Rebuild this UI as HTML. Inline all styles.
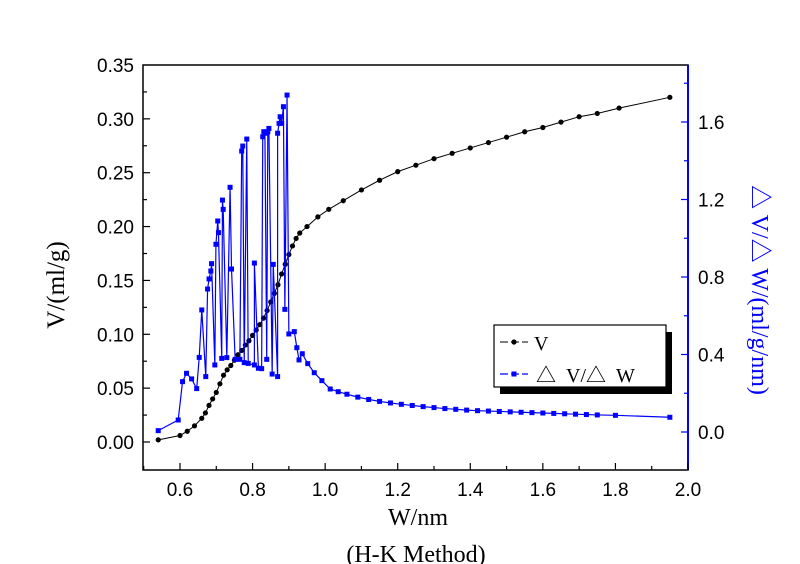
<!DOCTYPE html>
<html><head><meta charset="utf-8"><style>
html,body{margin:0;padding:0;background:#fff;width:800px;height:564px;overflow:hidden}
svg text{font-family:"Liberation Sans",sans-serif}
.serif{font-family:"Liberation Serif","Noto Serif CJK SC",serif}
</style></head><body>
<svg id="chart" width="800" height="564" viewBox="0 0 800 564" xmlns="http://www.w3.org/2000/svg">
</svg>
<script>
const vW = [0.54,0.60,0.62,0.64,0.66,0.67,0.68,0.69,0.70,0.71,0.72,0.73,0.74,0.75,0.76,0.77,0.78,0.79,0.80,0.81,0.82,0.83,0.84,0.85,0.86,0.87,0.88,0.89,0.90,0.91,0.92,0.93,0.95,0.98,1.01,1.05,1.10,1.15,1.20,1.25,1.30,1.35,1.40,1.45,1.50,1.55,1.60,1.65,1.70,1.75,1.81,1.95];
const vValues = [0.002,0.006,0.010,0.015,0.022,0.027,0.034,0.040,0.046,0.054,0.062,0.067,0.071,0.076,0.081,0.085,0.090,0.094,0.099,0.104,0.109,0.115,0.122,0.130,0.138,0.146,0.156,0.165,0.174,0.182,0.189,0.194,0.200,0.209,0.216,0.224,0.234,0.243,0.251,0.257,0.263,0.268,0.273,0.278,0.283,0.288,0.292,0.297,0.302,0.305,0.310,0.320];
const dW = [0.540,0.595,0.607,0.618,0.632,0.646,0.653,0.660,0.671,0.676,0.680,0.685,0.687,0.696,0.699,0.704,0.706,0.715,0.717,0.719,0.729,0.738,0.742,0.752,0.765,0.770,0.773,0.777,0.784,0.788,0.805,0.805,0.816,0.825,0.828,0.831,0.834,0.839,0.842,0.845,0.854,0.857,0.869,0.869,0.873,0.876,0.880,0.885,0.889,0.895,0.900,0.915,0.922,0.928,0.937,0.952,0.970,0.991,1.014,1.036,1.06,1.09,1.12,1.15,1.18,1.21,1.24,1.27,1.30,1.33,1.36,1.39,1.42,1.45,1.48,1.51,1.54,1.57,1.60,1.63,1.66,1.69,1.72,1.75,1.80,1.95];
const dValues = [0.007,0.062,0.260,0.303,0.274,0.224,0.385,0.630,0.286,0.738,0.790,0.831,0.869,0.346,0.969,1.089,1.029,0.380,1.197,1.149,0.384,1.263,0.841,0.375,0.375,1.450,1.476,0.358,1.512,0.354,0.346,0.872,0.329,0.327,1.524,1.550,1.542,0.375,1.550,1.567,0.299,0.865,0.286,1.542,1.593,1.627,1.593,1.679,0.633,1.739,0.506,0.518,0.435,0.372,0.404,0.353,0.306,0.265,0.222,0.208,0.195,0.180,0.168,0.158,0.150,0.143,0.137,0.131,0.126,0.121,0.117,0.113,0.110,0.108,0.106,0.104,0.102,0.100,0.098,0.096,0.094,0.092,0.090,0.088,0.086,0.076];
const xTicks = ["0.6","0.8","1.0","1.2","1.4","1.6","1.8","2.0"];
const yLeftTicks = ["0.00","0.05","0.10","0.15","0.20","0.25","0.30","0.35"];
const yRightTicks = ["0.0","0.4","0.8","1.2","1.6"];

const NS="http://www.w3.org/2000/svg";
const svg=document.getElementById('chart');
const L=143,R=688,T=65,B=470;
function X(v){return 180+(v-0.6)/1.4*508;}
function YL(v){return 442-v/0.35*377;}
function YR(v){return 432-v/1.6*310;}
function mk(tag,attrs,parent){const e=document.createElementNS(NS,tag);for(const k in attrs)e.setAttribute(k,attrs[k]);(parent||svg).appendChild(e);return e;}

const frame=mk('rect',{x:L,y:T,width:R-L,height:B-T,fill:'none',stroke:'#000','stroke-width':1.5});


const rax=mk('line',{x1:R,y1:T,x2:R,y2:B,stroke:'#00f','stroke-width':2});



for(let i=0;i<=15;i++){const v=0.5+i*0.1;const x=X(v);if(x<L-1||x>R+1)continue;const major=i%2==1;
 mk('line',{x1:x,y1:B,x2:x,y2:B-(major?7:4),stroke:'#000','stroke-width':1.2});}
xTicks.forEach(t=>{const e=mk('text',{x:X(+t),y:B+26,'text-anchor':'middle','font-size':19});e.textContent=t;
 
 });
for(let i=0;i<=14;i++){const v=i*0.025;const y=YL(v);if(y<T)continue;mk('line',{x1:L,y1:y,x2:L+(i%2==0?7:4),y2:y,stroke:'#000','stroke-width':1.2});}
yLeftTicks.forEach(t=>{const e=mk('text',{x:L-9,y:YL(+t)+7,'text-anchor':'end','font-size':19});e.textContent=t;
 
 });
for(let i=-1;i<=9;i++){const v=i*0.2;const y=YR(v);if(y<T||y>B)continue;mk('line',{x1:R,y1:y,x2:R-(i%2==0?7:4),y2:y,stroke:'#00f','stroke-width':1.2});}
yRightTicks.forEach(t=>{const e=mk('text',{x:R+10,y:YR(+t)+7,'text-anchor':'start','font-size':19});e.textContent=t;
 
 });

const vpts=vW.map((w,i)=>X(w)+','+YL(vValues[i])).join(' ');
const vl=mk('polyline',{points:vpts,fill:'none',stroke:'#000','stroke-width':1});


vW.forEach((w,i)=>{const c=mk('circle',{cx:X(w),cy:YL(vValues[i]),r:2.6,fill:'#000'});
 
 });
const dpts=dW.map((w,i)=>X(w)+','+YR(dValues[i])).join(' ');
const dl=mk('polyline',{points:dpts,fill:'none',stroke:'#00f','stroke-width':1.2});


dW.forEach((w,i)=>{const r=mk('rect',{x:X(w)-2.5,y:YR(dValues[i])-2.5,width:5,height:5,fill:'#00f'});
 
 });
</script>
<svg width="800" height="564" style="position:absolute;left:0;top:0" xmlns="http://www.w3.org/2000/svg">
 <g>
  <rect x="500" y="332" width="172" height="62" fill="#000"/>
  <rect x="494" y="325" width="172" height="62" fill="#fff" stroke="#000" stroke-width="1.2"/>
  <line x1="500" y1="342" x2="528" y2="342" stroke="#000" stroke-width="1" stroke-dasharray="8,3"/>
  <circle cx="514" cy="342" r="2.6" fill="#000"/>
  <text class="serif" x="534" y="350" font-size="20">V</text>
  <line x1="500" y1="374" x2="528" y2="374" stroke="#00f" stroke-width="1.2" stroke-dasharray="8,3"/>
  <rect x="511.5" y="371.5" width="5" height="5" fill="#00f"/>
  <text class="serif" x="536" y="382" font-size="20">△&#160;&#160;V/△&#160;&#160;W</text>
 </g>
 <text class="serif" x="418" y="525" font-size="24" text-anchor="middle">W/nm</text>
 <text class="serif" x="416" y="562" font-size="24" text-anchor="middle">(H-K Method)</text>
 <text class="serif" transform="translate(64,285) rotate(-90)" font-size="25" text-anchor="middle">V/(ml/g)</text>
 <text class="serif" transform="translate(752,290) rotate(90)" font-size="24" fill="#00f" text-anchor="middle">△ V/△ W/(ml/g/nm)</text>
</svg>
</body></html>
